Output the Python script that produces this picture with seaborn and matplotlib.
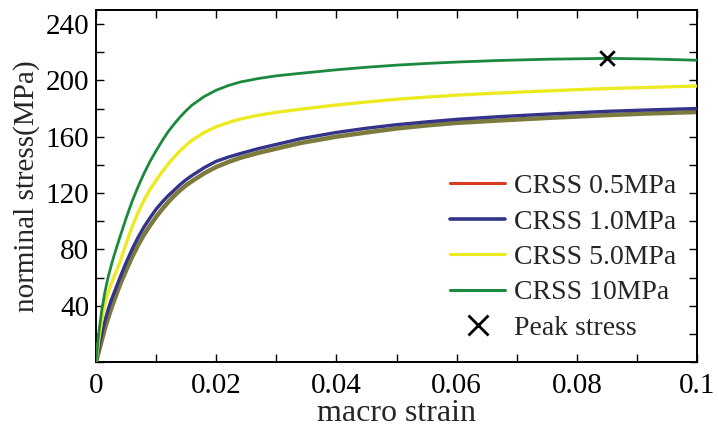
import matplotlib
matplotlib.use("Agg")
import matplotlib.pyplot as plt
from matplotlib.lines import Line2D
from matplotlib.ticker import MultipleLocator
import seaborn as sns

strain = [0, 0.0005, 0.001, 0.0015, 0.002, 0.0025, 0.003, 0.004, 0.005, 0.006, 0.007,
          0.008, 0.009, 0.010, 0.011, 0.012, 0.013, 0.014, 0.015, 0.016, 0.018, 0.020,
          0.022, 0.024, 0.027, 0.030, 0.034, 0.040, 0.045, 0.050, 0.055, 0.060, 0.067,
          0.075, 0.085, 0.092, 0.100]

crss_05 = [0, 8, 16, 24, 31, 37.5, 43.5, 55, 65, 74.5, 83, 90.5, 97, 103, 108.5, 113.5,
           118, 122, 125.5, 128.5, 134, 138.5, 142, 145, 148.5, 151.5, 155.5, 160, 163,
           165.8, 168, 169.8, 171.5, 173.3, 175.3, 176.5, 177.5]
crss_10 = [0, 11, 21, 29.5, 37, 43.5, 49, 60, 70.5, 80, 88.5, 96, 102.5, 108.5, 113.5,
           118, 122, 126, 129.5, 132.5, 138, 142.5, 145.5, 148, 151.5, 154.5, 158.5, 163,
           166, 168.5, 170.5, 172.3, 174.2, 176, 178, 179, 180]
crss_50 = [0, 17, 31, 42, 49, 55, 60.5, 71, 84, 96, 106, 115, 122.5, 129, 135, 140.5,
           145.5, 150, 154, 157.5, 163, 167, 170, 172.5, 175.2, 177.3, 179.5, 182.5, 184.6,
           186.6, 188.1, 189.5, 191, 192.5, 194.2, 195, 196]
crss_100 = [0, 22, 38, 50, 60, 68, 75.5, 89, 102, 114, 124.5, 134, 142.5, 150, 157, 163.5,
            169, 174, 178.5, 182.5, 188.5, 193, 196.3, 198.8, 201.3, 203.2, 205, 207.5, 209.3,
            210.8, 212, 213, 214.1, 215, 215.6, 215.2, 214.3]

peak_strain = [0.085]
peak_stress = [215.6]

labels = ["CRSS 0.5MPa", "CRSS 1.0MPa", "CRSS 5.0MPa", "CRSS 10MPa", "Peak stress"]
x_ticks = [0, 0.02, 0.04, 0.06, 0.08, 0.1]
x_tick_labels = ["0", "0.02", "0.04", "0.06", "0.08", "0.1"]
y_ticks = [40, 80, 120, 160, 200, 240]

sns.set_theme(style="ticks")
plt.rcParams["font.family"] = ["Liberation Serif", "DejaVu Serif"]

fig = plt.figure(figsize=(7.18, 4.32), dpi=100)
ax = fig.add_axes([0.1337, 0.162, 0.8371, 0.815])

col_red = "#d83a22"
col_olive = "#7c7a3c"
col_blue = "#33338a"
col_yellow = "#eeea22"
col_green = "#1b8a3e"

line_kw = dict(solid_joinstyle="round", solid_capstyle="round")
sns.lineplot(x=strain, y=crss_05, ax=ax, color=col_olive, lw=3.2, zorder=2, **line_kw)
sns.lineplot(x=strain, y=crss_10, ax=ax, color=col_blue, lw=2.4, zorder=3, **line_kw)
sns.lineplot(x=strain, y=crss_50, ax=ax, color=col_yellow, lw=2.4, zorder=3, **line_kw)
sns.lineplot(x=strain, y=crss_100, ax=ax, color=col_green, lw=2.0, zorder=4, **line_kw)
sns.scatterplot(x=peak_strain, y=peak_stress, ax=ax, marker="x", color="black",
                s=110, linewidth=2.0, zorder=5)

ax.set_xlim(0, 0.1)
ax.set_ylim(0, 250)
ax.set_xticks(x_ticks)
ax.set_xticklabels(x_tick_labels)
ax.xaxis.set_minor_locator(MultipleLocator(0.01))
ax.set_yticks(y_ticks)
ax.set_yticklabels([str(v) for v in y_ticks])
ax.yaxis.set_minor_locator(MultipleLocator(20))

ax.tick_params(which="both", direction="in", top=True, right=True, length=6, width=1.0,
               labelsize=21, colors="black")
ax.tick_params(axis="x", which="both", pad=8)
ax.tick_params(axis="y", which="both", pad=5)
for s in ax.spines.values():
    s.set_linewidth(1.4)
    s.set_color("black")

ax.set_xlabel("macro strain", fontsize=23, labelpad=0)
ax.set_ylabel("norminal stress(MPa)", fontsize=21, labelpad=4)

handles = [
    Line2D([0], [0], color=col_red, lw=2.2),
    Line2D([0], [0], color=col_blue, lw=2.6),
    Line2D([0], [0], color=col_yellow, lw=2.2),
    Line2D([0], [0], color=col_green, lw=2.2),
    Line2D([0], [0], color="black", marker="x", lw=0, markersize=14, markeredgewidth=2),
]
ax.legend(handles, labels, loc="lower right", bbox_to_anchor=(0.965, 0.06), frameon=False,
          fontsize=20, handlelength=2.0, handletextpad=0.3, labelspacing=0.36,
          borderaxespad=0, borderpad=0)

fig.savefig("out.png", dpi=100)
